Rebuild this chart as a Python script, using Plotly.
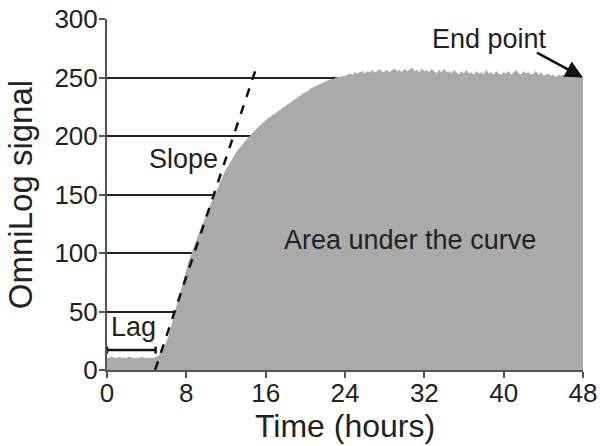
import plotly.graph_objects as go

# OmniLog signal sampled every 0.25 h from 0 to 48 h
signal = [
    # 0 - 5 h (lag)
    10, 10, 11, 10, 10, 11, 10, 10, 10, 11, 10, 10, 10, 10, 11, 10, 10, 10, 10, 10, 11,
    # 5.25 - 9 h
    12, 15, 19, 23, 29, 37, 45, 53, 62, 70, 77, 85, 92, 98, 104, 110,
    # 9.25 - 14 h
    116, 121, 126, 132, 137, 142, 146, 151, 156, 161, 166, 171, 174, 178, 181, 185,
    188, 191, 194, 196,
    # 14.25 - 24 h
    198, 201, 203, 205, 207, 209, 211, 213, 215, 216, 218, 219, 221, 222, 224, 225,
    227, 228, 230, 231, 233, 234, 236, 237, 238, 240, 241, 242, 243, 244, 245, 246,
    247, 248, 248, 249, 250, 250, 251, 251,
    # 24.25 - 48 h (plateau)
    252, 253, 252, 254, 253, 254, 255, 253, 255, 254, 256, 254, 255, 257, 254, 255,
    256, 254, 256, 257, 255, 256, 254, 257, 255, 256, 258, 255, 256, 254, 257, 255,
    256, 254, 257, 255, 253, 256, 254, 257, 254, 255, 253, 256, 254, 252, 255, 253,
    256, 253, 254, 252, 255, 253, 254, 252, 256, 253, 254, 252, 255, 253, 252, 254,
    253, 255, 252, 254, 256, 253, 252, 255, 253, 254, 252, 253, 255, 252, 254, 251,
    252, 253, 251, 252, 250, 252, 251, 252, 250, 251, 252, 251, 250, 251, 250, 250,
]
assert len(signal) == 193, len(signal)
time_h = [0.25 * i for i in range(len(signal))]

x_ticks = [0, 8, 16, 24, 32, 40, 48]
y_ticks = [0, 50, 100, 150, 200, 250, 300]

slope_x = [4.85, 15.2]
slope_y = [0, 262]

lag_start, lag_end, lag_level = 0, 4.9, 17

FONT = "Arial, Liberation Sans, Helvetica, sans-serif"
TXT = "#222222"
LBL = 27
TICK = 26

fig = go.Figure()
fig.add_trace(go.Scatter(
    x=time_h, y=signal, mode="lines", fill="tozeroy",
    fillcolor="#aaaaaa", line=dict(color="#aaaaaa", width=1),
    hoverinfo="skip", showlegend=False))
fig.add_trace(go.Scatter(
    x=slope_x, y=slope_y, mode="lines",
    line=dict(color="#111111", width=2.5, dash="dash"),
    showlegend=False))
fig.add_trace(go.Scatter(
    x=[lag_start, lag_start, None, lag_start, lag_end, None, lag_end, lag_end],
    y=[lag_level - 3, lag_level + 3, None, lag_level, lag_level, None, lag_level - 3, lag_level + 3],
    mode="lines", line=dict(color="#111111", width=2.5), showlegend=False))

fig.add_annotation(x=2.7, y=37, text="Lag", showarrow=False,
                   font=dict(size=LBL, color=TXT, family=FONT))
fig.add_annotation(x=7.7, y=180, text="Slope", showarrow=False,
                   font=dict(size=LBL, color=TXT, family=FONT))
fig.add_annotation(x=30.6, y=111, text="Area under the curve", showarrow=False,
                   font=dict(size=LBL, color=TXT, family=FONT))
fig.add_annotation(x=38.6, y=283, text="End point", showarrow=False,
                   font=dict(size=LBL, color=TXT, family=FONT))
fig.add_annotation(x=48, y=250, ax=43.2, ay=272, xref="x", yref="y",
                   axref="x", ayref="y", text="", showarrow=True,
                   arrowhead=2, arrowsize=1.4, arrowwidth=2.5, arrowcolor="#111111")

fig.update_layout(
    width=600, height=446,
    margin=dict(l=107, r=17, t=19, b=76),
    plot_bgcolor="white", paper_bgcolor="white",
    font=dict(family=FONT, color=TXT),
)
fig.update_xaxes(
    range=[0, 48], tickvals=x_ticks, ticktext=[str(v) for v in x_ticks],
    showgrid=False, zeroline=False, showline=True, linecolor="#555555", linewidth=2,
    ticks="outside", ticklen=6, tickwidth=2, tickcolor="#555555", automargin=False,
    ticklabelstandoff=-7,
    tickfont=dict(size=TICK, color=TXT, family=FONT),
    title=dict(text="Time (hours)", font=dict(size=32, color=TXT, family=FONT), standoff=4),
)
fig.update_yaxes(
    range=[0, 300], tickvals=y_ticks, ticktext=[str(v) for v in y_ticks],
    showgrid=True, gridcolor="#222222", gridwidth=2, zeroline=False,
    showline=True, linecolor="#555555", linewidth=2, automargin=False,
    ticks="outside", ticklen=6, tickwidth=2, tickcolor="#555555",
    ticklabelstandoff=-4,
    tickfont=dict(size=TICK, color=TXT, family=FONT),
    title=dict(text="OmniLog signal", font=dict(size=33, color=TXT, family=FONT), standoff=12),
)

fig.write_html("out.html")
